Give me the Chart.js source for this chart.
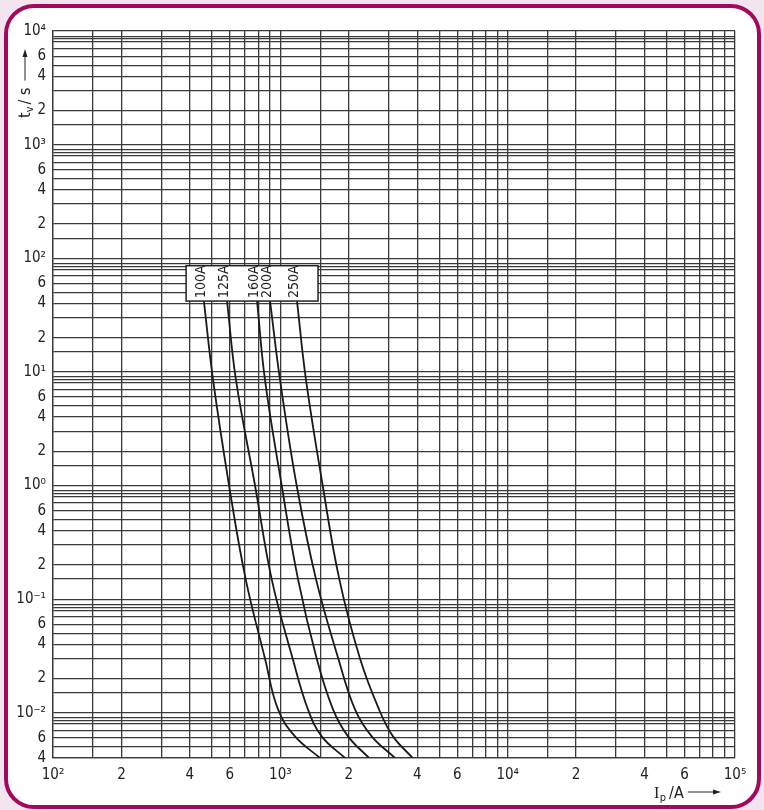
<!DOCTYPE html>
<html>
<head>
<meta charset="utf-8">
<script src="https://cdn.jsdelivr.net/npm/chart.js@4.4.1/dist/chart.umd.min.js"></script>
<style>
html, body { margin: 0; padding: 0; background: #f3e5ef; }
body { width: 764px; height: 810px; position: relative; overflow: hidden; }
#frame { position: absolute; left: 4px; top: 4px; width: 749px; height: 797px; border: 4px solid #a3085f; border-radius: 30px; background: #fff; }
#chart { position: absolute; left: 0; top: 0; }
</style>
</head>
<body>
<div id="frame"></div>
<canvas id="chart" width="764" height="810"></canvas>
<script>
// Tempi di intervento (s), comuni a tutte le curve
const tempi = [42, 8.5, 1.0, 0.15, 0.03, 0.0107, 0.0062, 0.004];

// Correnti presunte (A) per ogni taglia di fusibile
const corrente100A = [461, 506, 595, 704, 856, 977, 1160, 1494];
const corrente125A = [583, 638, 774, 916, 1133, 1323, 1520, 1925];
const corrente160A = [790, 856, 1014, 1196, 1445, 1705, 1985, 2455];
const corrente200A = [901, 997, 1180, 1435, 1799, 2130, 2523, 3194];
const corrente250A = [1184, 1297, 1536, 1817, 2241, 2717, 3130, 3822];

const etichette = ['100A', '125A', '160A', '200A', '250A'];
const correnti = [corrente100A, corrente125A, corrente160A, corrente200A, corrente250A];

// Riquadro delle etichette (in unita' dei dati)
const riquadroCorrente = [385, 1465];
const riquadroTempo = [42, 86];

// Griglia e tick
const decadiX = [100, 1000, 10000];
const mantisseX = [1, 1.5, 2, 3, 4, 5, 6, 7, 8, 9];
const decadiY = [0.001, 0.01, 0.1, 1, 10, 100, 1000];
const mantisseY = [1, 1.5, 2, 3, 4, 5, 6, 7, 8, 8.5, 9];
const mantisseConEtichetta = [2, 4, 6];
const minX = 100, maxX = 100000;
const minY = 0.004, maxY = 10000;

const FONT = '"Liberation Sans Narrow", "DejaVu Sans Condensed", "Liberation Sans", sans-serif';
const COLORE_TESTO = '#222';
const COLORE_GRIGLIA = '#3a3a3a';

function valoriGriglia(decadi, mantisse, min, max) {
    const valori = [];
    decadi.forEach(d => mantisse.forEach(m => {
        const v = d * m;
        if (v >= min * 0.999 && v <= max * 1.001) valori.push(v);
    }));
    valori.push(max);
    return valori;
}

function apice(n) {
    const cifre = '⁰¹²³⁴⁵⁶⁷⁸⁹';
    return String(n).split('').map(c => c === '-' ? '⁻' : cifre[+c]).join('');
}

function etichettaTick(value) {
    const esp = Math.floor(Math.log10(value) + 1e-9);
    const m = Math.round(value / Math.pow(10, esp) * 10) / 10;
    if (m === 1) return '10' + apice(esp);
    if (mantisseConEtichetta.includes(m)) return String(m);
    return '';
}

function freccia(ctx, x1, y1, x2, y2) {
    ctx.beginPath();
    ctx.moveTo(x1, y1);
    ctx.lineTo(x2 - 6, y2);
    ctx.stroke();
    ctx.beginPath();
    ctx.moveTo(x2, y2);
    ctx.lineTo(x2 - 8, y2 - 2.5);
    ctx.lineTo(x2 - 8, y2 + 2.5);
    ctx.closePath();
    ctx.fill();
}

const pluginEtichette = {
    id: 'etichette',
    afterDatasetsDraw(chart) {
        const { ctx, scales: { x, y } } = chart;
        const left = x.getPixelForValue(riquadroCorrente[0]);
        const right = x.getPixelForValue(riquadroCorrente[1]);
        const bottom = y.getPixelForValue(riquadroTempo[0]);
        const top = y.getPixelForValue(riquadroTempo[1]);
        ctx.save();
        ctx.fillStyle = '#fff';
        ctx.strokeStyle = '#222';
        ctx.lineWidth = 1.5;
        ctx.fillRect(left, top, right - left, bottom - top);
        ctx.strokeRect(left, top, right - left, bottom - top);
        ctx.fillStyle = COLORE_TESTO;
        ctx.font = '14px ' + FONT;
        ctx.textAlign = 'left';
        ctx.textBaseline = 'middle';
        etichette.forEach((lab, i) => {
            const px = x.getPixelForValue(correnti[i][0]) - 3;
            ctx.save();
            ctx.translate(px, bottom - 3);
            ctx.rotate(-Math.PI / 2);
            ctx.fillText(lab, 0, 0);
            ctx.restore();
        });
        ctx.restore();
    },
    afterDraw(chart) {
        const { ctx, chartArea } = chart;
        ctx.save();
        ctx.fillStyle = COLORE_TESTO;
        ctx.strokeStyle = COLORE_TESTO;
        ctx.lineWidth = 1;
        ctx.textBaseline = 'alphabetic';
        ctx.textAlign = 'left';

        // titolo asse y: t_v / s ->
        ctx.save();
        ctx.translate(chartArea.left - 23, chartArea.top + 87);
        ctx.rotate(-Math.PI / 2);
        let pos = 0;
        ctx.font = '16px ' + FONT;
        ctx.fillText('t', pos, 0);
        pos += ctx.measureText('t').width;
        ctx.font = '11px ' + FONT;
        ctx.fillText('v', pos, 3);
        pos += ctx.measureText('v').width + 2;
        ctx.font = '16px ' + FONT;
        ctx.fillText('/ s', pos, 0);
        pos += ctx.measureText('/ s').width + 7;
        freccia(ctx, pos, -5, 69, -5);
        ctx.restore();

        // titolo asse x: I_p / A ->
        let px = chartArea.right - 81;
        const base = chart.height - 12;
        ctx.font = '16px "Liberation Serif", serif';
        ctx.fillText('I', px, base);
        px += ctx.measureText('I').width + 0.5;
        ctx.font = '11px ' + FONT;
        ctx.fillText('p', px, base + 3);
        px += ctx.measureText('p').width + 3;
        ctx.font = '16px ' + FONT;
        ctx.fillText('/A', px, base);
        px += ctx.measureText('/A').width + 4;
        freccia(ctx, px, base - 6, chartArea.right - 14, base - 6);
        ctx.restore();
    }
};

const grigliaX = valoriGriglia(decadiX, mantisseX, minX, maxX);
const grigliaY = valoriGriglia(decadiY, mantisseY, minY, maxY);

const datasets = etichette.map((lab, i) => ({
    label: lab,
    data: correnti[i].map((c, j) => ({ x: c, y: tempi[j] })),
    showLine: true,
    borderColor: '#1a1a1a',
    borderWidth: 1.8,
    pointRadius: 0,
    tension: 0.4,
    fill: false
}));

const ctx = document.getElementById('chart').getContext('2d');
new Chart(ctx, {
    type: 'scatter',
    data: { datasets: datasets },
    options: {
        responsive: false,
        animation: false,
        devicePixelRatio: 1,
        layout: { padding: { left: 0, top: 31, right: 29, bottom: 0 } },
        scales: {
            x: {
                type: 'logarithmic',
                min: minX,
                max: maxX,
                afterBuildTicks: scale => { scale.ticks = grigliaX.map(v => ({ value: v })); },
                afterFit: scale => { scale.height = 52; scale.paddingLeft = 0; scale.paddingRight = 0; },
                grid: { color: COLORE_GRIGLIA, lineWidth: 1.3, drawTicks: false },
                border: { color: COLORE_GRIGLIA, width: 1.3 },
                ticks: {
                    autoSkip: false,
                    maxRotation: 0,
                    padding: 8,
                    color: COLORE_TESTO,
                    font: { family: FONT, size: 15 },
                    callback: etichettaTick
                }
            },
            y: {
                type: 'logarithmic',
                min: minY,
                max: maxY,
                afterBuildTicks: scale => { scale.ticks = grigliaY.map(v => ({ value: v })); },
                afterFit: scale => { scale.width = 53; scale.paddingTop = 0; scale.paddingBottom = 0; },
                grid: { color: COLORE_GRIGLIA, lineWidth: 1.3, drawTicks: false },
                border: { color: COLORE_GRIGLIA, width: 1.3 },
                ticks: {
                    autoSkip: false,
                    padding: 7,
                    color: COLORE_TESTO,
                    font: { family: FONT, size: 15 },
                    callback: etichettaTick
                }
            }
        },
        plugins: {
            legend: { display: false },
            tooltip: { enabled: false }
        }
    },
    plugins: [pluginEtichette]
});
</script>
</body>
</html>
